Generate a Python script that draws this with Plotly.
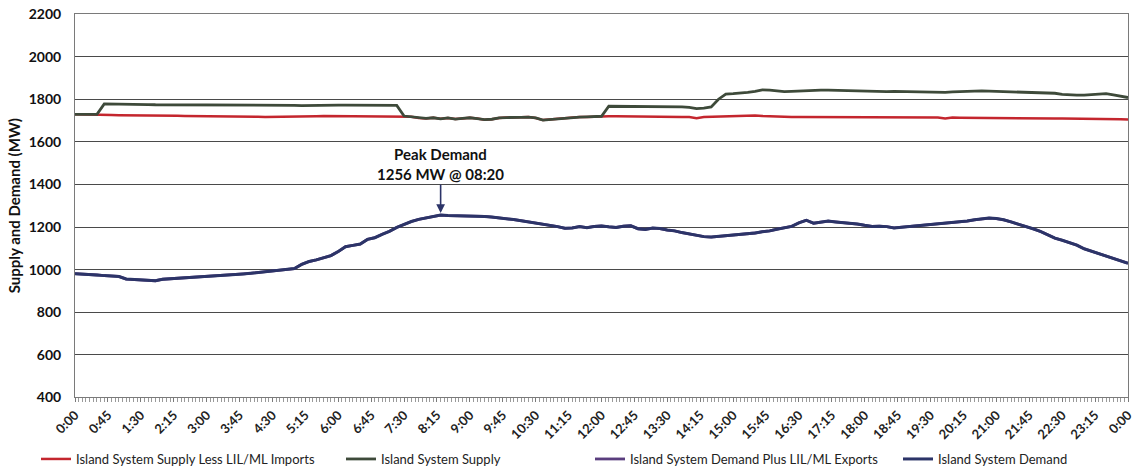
import plotly.graph_objects as go

# Time of day, minutes after midnight, sampled every 10 minutes (0:00 to 24:00)
minutes = list(range(0, 1441, 10))

# Island System Demand (MW)
island_demand = [
    981, 980, 977, 975, 972, 970,
    968, 956, 954, 953, 950, 948,
    955, 957, 960, 962, 964, 965,
    967, 969, 971, 973, 977, 980,
    983, 987, 990, 994, 998, 1002,
    1005, 1025, 1038, 1046, 1055, 1066,
    1085, 1108, 1114, 1120, 1142, 1150,
    1166, 1180, 1198, 1212, 1226, 1236,
    1243, 1248, 1256, 1254, 1253, 1254,
    1252, 1253, 1250, 1247, 1244, 1240,
    1235, 1230, 1225, 1220, 1214, 1208,
    1202, 1194, 1196, 1202, 1197, 1203,
    1205, 1201, 1198, 1204, 1206, 1192,
    1189, 1195, 1193, 1186, 1182, 1174,
    1167, 1160, 1155, 1153, 1156, 1158,
    1161, 1164, 1168, 1172, 1178, 1182,
    1190, 1196, 1203, 1220, 1232, 1218,
    1222, 1228, 1224, 1221, 1218, 1214,
    1208, 1203, 1204, 1202, 1196, 1199,
    1203, 1206, 1209, 1212, 1215, 1217,
    1219, 1223, 1228, 1234, 1239, 1242,
    1240, 1234, 1224, 1214, 1205, 1192,
    1180, 1163, 1148, 1138, 1128, 1115,
    1098, 1087, 1075, 1066, 1054, 1042,
    1030,
]

# Island System Demand Plus LIL/ML Exports (MW) - no exports over the day
demand_plus_exports = [
    981, 980, 977, 975, 972, 970,
    968, 956, 954, 953, 950, 948,
    955, 957, 960, 962, 964, 965,
    967, 969, 971, 973, 977, 980,
    983, 987, 990, 994, 998, 1002,
    1005, 1025, 1038, 1046, 1055, 1066,
    1085, 1108, 1114, 1120, 1142, 1150,
    1166, 1180, 1198, 1212, 1226, 1236,
    1243, 1248, 1256, 1254, 1253, 1254,
    1252, 1253, 1250, 1247, 1244, 1240,
    1235, 1230, 1225, 1220, 1214, 1208,
    1202, 1194, 1196, 1202, 1197, 1203,
    1205, 1201, 1198, 1204, 1206, 1192,
    1189, 1195, 1193, 1186, 1182, 1174,
    1167, 1160, 1155, 1153, 1156, 1158,
    1161, 1164, 1168, 1172, 1178, 1182,
    1190, 1196, 1203, 1220, 1232, 1218,
    1222, 1228, 1224, 1221, 1218, 1214,
    1208, 1203, 1204, 1202, 1196, 1199,
    1203, 1206, 1209, 1212, 1215, 1217,
    1219, 1223, 1228, 1234, 1239, 1242,
    1240, 1234, 1224, 1214, 1205, 1192,
    1180, 1163, 1148, 1138, 1128, 1115,
    1098, 1087, 1075, 1066, 1054, 1042,
    1030,
]

# Island System Supply (MW)
island_supply = [
    1729, 1729, 1729, 1729, 1778, 1778,
    1777, 1776, 1776, 1775, 1775, 1774,
    1774, 1774, 1774, 1773, 1773, 1773,
    1773, 1773, 1773, 1772, 1772, 1772,
    1772, 1772, 1773, 1773, 1774, 1773,
    1771, 1770, 1771, 1771, 1772, 1772,
    1772, 1772, 1772, 1772, 1771, 1771,
    1771, 1771, 1771, 1721, 1718, 1712,
    1710, 1713, 1708, 1712, 1707, 1710,
    1713, 1709, 1704, 1706, 1712, 1714,
    1716, 1715, 1716, 1712, 1702, 1705,
    1709, 1712, 1714, 1716, 1717, 1719,
    1720, 1767, 1767, 1767, 1766, 1766,
    1766, 1765, 1765, 1765, 1764, 1764,
    1762, 1756, 1758, 1764, 1800, 1824,
    1826, 1828, 1832, 1837, 1844, 1843,
    1839, 1836, 1837, 1839, 1841, 1842,
    1843, 1843, 1842, 1840, 1838, 1837,
    1836, 1836, 1836, 1836, 1837, 1836,
    1836, 1835, 1835, 1834, 1833, 1832,
    1834, 1836, 1838, 1840, 1839, 1838,
    1837, 1836, 1836, 1836, 1835, 1834,
    1833, 1831, 1828, 1823, 1820, 1819,
    1819, 1821, 1824, 1826, 1820, 1813,
    1808,
]

# Island System Supply Less LIL/ML Imports (MW)
supply_less_imports = [
    1729, 1729, 1729, 1728, 1727, 1726,
    1725, 1725, 1724, 1724, 1724, 1723,
    1723, 1722, 1722, 1721, 1721, 1720,
    1720, 1720, 1719, 1719, 1718, 1718,
    1718, 1718, 1717, 1717, 1718, 1718,
    1718, 1719, 1720, 1720, 1721, 1721,
    1721, 1720, 1721, 1721, 1720, 1720,
    1720, 1720, 1721, 1721, 1718, 1712,
    1710, 1713, 1708, 1712, 1707, 1710,
    1713, 1709, 1704, 1706, 1712, 1714,
    1716, 1715, 1716, 1712, 1702, 1705,
    1709, 1712, 1714, 1716, 1717, 1719,
    1720, 1720, 1720, 1720, 1720, 1719,
    1719, 1719, 1718, 1718, 1718, 1717,
    1716, 1711, 1716, 1717, 1718, 1719,
    1721, 1723, 1725, 1724, 1721, 1719,
    1718, 1717, 1716, 1716, 1716, 1716,
    1716, 1716, 1715, 1715, 1715, 1715,
    1715, 1715, 1715, 1714, 1714, 1714,
    1714, 1714, 1714, 1714, 1714, 1709,
    1714, 1713, 1713, 1713, 1713, 1713,
    1712, 1712, 1712, 1712, 1711, 1711,
    1711, 1710, 1710, 1709, 1709, 1709,
    1708, 1708, 1707, 1707, 1706, 1706,
    1705,
]

# Axis labels every 45 minutes
tick_minutes = list(range(0, 1441, 45))
tick_labels = [
    "0:00", "0:45", "1:30", "2:15", "3:00", "3:45", "4:30", "5:15", "6:00",
    "6:45", "7:30", "8:15", "9:00", "9:45", "10:30", "11:15", "12:00",
    "12:45", "13:30", "14:15", "15:00", "15:45", "16:30", "17:15", "18:00",
    "18:45", "19:30", "20:15", "21:00", "21:45", "22:30", "23:15", "0:00",
]

# Peak demand callout
peak_minute = 500
peak_mw = 1256
peak_text = "Peak Demand<br>1256 MW @ 08:20"

FONT = "Lato"
W, H = 1137, 470

series = [
    ("Island System Supply Less LIL/ML Imports", supply_less_imports, "#C4262E", 2.5, "legend", 36),
    ("Island System Supply", island_supply, "#3E4A3A", 2.8, "legend2", 341),
    ("Island System Demand Plus LIL/ML Exports", demand_plus_exports, "#5A3E7E", 2.8, "legend3", 590),
    ("Island System Demand", island_demand, "#2C3468", 3, "legend4", 898),
]

fig = go.Figure()
legend_layouts = {}
for name, values, color, width, legend_id, lx in series:
    fig.add_trace(go.Scatter(
        x=minutes, y=values, mode="lines", name=name,
        line=dict(color=color, width=width),
        legend=legend_id, showlegend=True, hoverinfo="skip",
    ))
    legend_layouts[legend_id] = dict(
        x=lx / W, y=1 - 459 / H, xref="container", yref="container",
        xanchor="left", yanchor="middle", orientation="h",
        bgcolor="rgba(0,0,0,0)", borderwidth=0,
        font=dict(family=FONT, size=13, color="#222222"),
        itemwidth=30, tracegroupgap=0, visible=True,
    )

fig.add_annotation(
    x=peak_minute, y=peak_mw, text=peak_text,
    showarrow=True, arrowhead=2, arrowsize=1.1, arrowwidth=1.6,
    arrowcolor="#2C3468", ax=0, ay=-51, standoff=2,
    font=dict(family=FONT, size=15, color="#111111", weight="bold"),
    align="center",
)

fig.update_layout(
    width=W, height=H, showlegend=True,
    margin=dict(l=75, r=2, t=14, b=72),
    paper_bgcolor="white", plot_bgcolor="white",
    **legend_layouts,
)

fig.update_xaxes(
    range=[0, 1440], tickmode="array", tickvals=tick_minutes, ticktext=tick_labels,
    tickangle=-45, showgrid=False, zeroline=False, ticklabeloverflow="allow",
    showline=True, linecolor="#7A7A7A", linewidth=1, mirror=True,
    ticks="outside", ticklen=4, tickcolor="#7A7A7A",
    minor=dict(tickmode="linear", tick0=0, dtick=5, ticks="outside",
               ticklen=4, tickcolor="#9A9A9A", showgrid=False),
    tickfont=dict(family=FONT, size=13, color="#222222", weight="bold"),
)

fig.update_yaxes(
    range=[400, 2200], tickmode="linear", tick0=400, dtick=200,
    showgrid=True, gridcolor="#4A4A4A", gridwidth=1, zeroline=False,
    showline=True, linecolor="#7A7A7A", linewidth=1, mirror=True,
    ticks="", ticklabelstandoff=10,
    tickfont=dict(family=FONT, size=14, color="#111111", weight="bold"),
    title=dict(text="Supply and Demand (MW)", standoff=4,
               font=dict(family=FONT, size=15, color="#111111", weight="bold")),
)

fig.write_html("out.html")
